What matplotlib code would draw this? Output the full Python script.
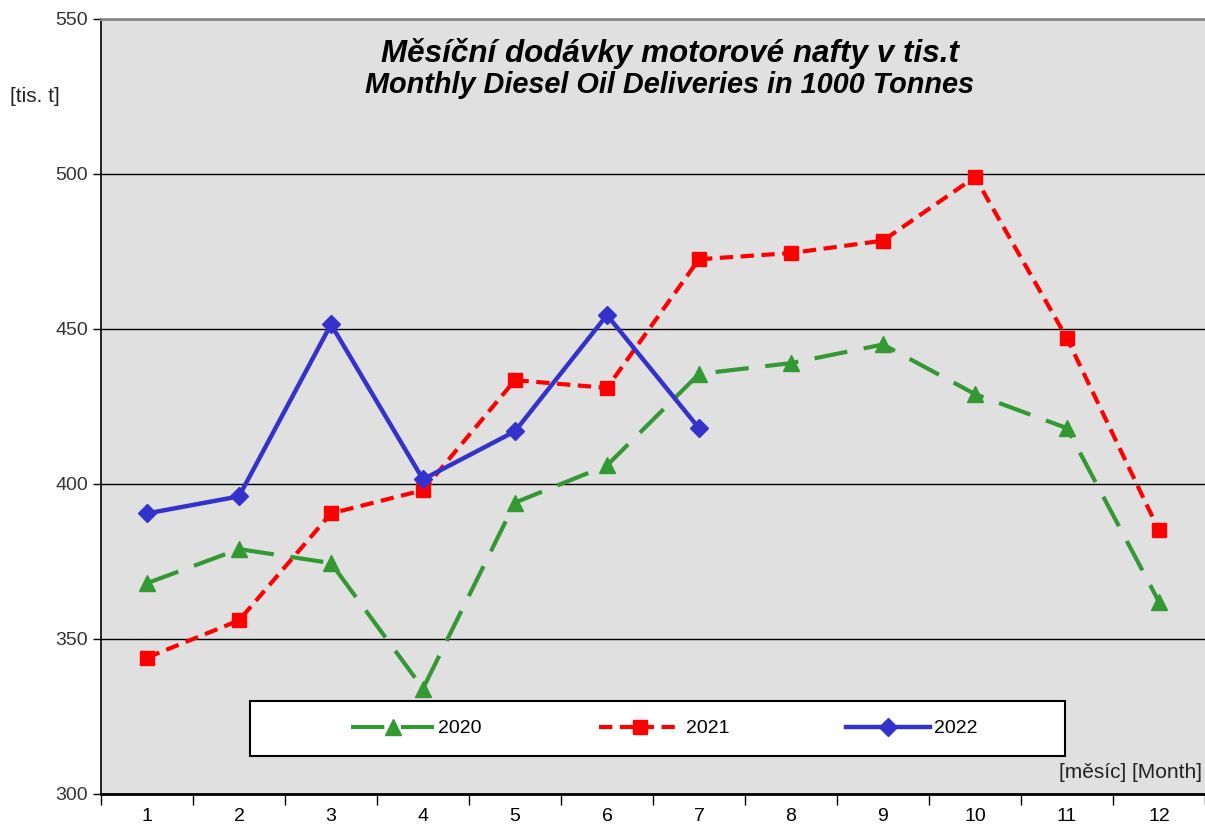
import matplotlib.pyplot as plt
from matplotlib.patches import Rectangle
import numpy as np

# months
months = [1, 2, 3, 4, 5, 6, 7, 8, 9, 10, 11, 12]
month_labels = ["1", "2", "3", "4", "5", "6", "7", "8", "9", "10", "11", "12"]

# deliveries [tis. t]
y2020 = [368, 379, 374.5, 334, 394, 406, 435.5, 439, 445, 429, 418, 362]
y2021 = [344, 356, 390.5, 398, 433.5, 431, 472.5, 474.5, 478.5, 499, 447, 385]
m2022 = [1, 2, 3, 4, 5, 6, 7]
y2022 = [390.5, 396, 451.5, 401.5, 417, 454.5, 418]

plt.rcParams['font.family'] = ['Liberation Sans', 'DejaVu Sans']

fig = plt.figure(figsize=(12.05, 8.25), dpi=100)
ax = fig.add_axes([101/1205, 31/825, 1104/1205, 775/825])
ax.set_facecolor("#e0e0e0")

ax.plot(months, y2020, color="#339933", lw=3, dashes=(8, 4), marker="^", ms=11,
        label="2020", zorder=3)
ax.plot(months, y2021, color="#ff0000", lw=3, dashes=(3.2, 1.8), marker="s", ms=10.5,
        label="2021", zorder=4)
ax.plot(m2022, y2022, color="#3333cc", lw=3.2, marker="D", ms=9.5,
        label="2022", zorder=5)

ax.set_xlim(0.5, 12.5)
ax.set_ylim(300, 550)
ax.set_yticks([300, 350, 400, 450, 500, 550])
ax.tick_params(axis="y", labelsize=14, labelcolor="#333333", length=6, width=1)

ax.set_xticks(np.arange(0.5, 13, 1))
ax.set_xticklabels([])
ax.tick_params(axis="x", which="major", length=8, width=1)
ax.set_xticks(months, minor=True)
ax.set_xticklabels(month_labels, minor=True)
ax.tick_params(axis="x", which="minor", length=0, labelsize=14, pad=10)

ax.grid(axis="y", color="black", lw=1)
ax.set_axisbelow(True)
ax.spines["right"].set_visible(False)
ax.spines["top"].set_color("#888888")
ax.spines["top"].set_linewidth(2)
ax.spines["left"].set_linewidth(1.2)
ax.spines["bottom"].set_linewidth(2)

ax.text(0.515, 0.956, "Měsíční dodávky motorové nafty v tis.t", transform=ax.transAxes,
        ha="center", va="center", fontsize=22.6, fontweight="bold", style="italic")
ax.text(0.515, 0.915, "Monthly Diesel Oil Deliveries in 1000 Tonnes", transform=ax.transAxes,
        ha="center", va="center", fontsize=20.8, fontweight="bold", style="italic")

fig.text(10/1205, 1 - 97/825, "[tis. t]", fontsize=15, va="center", ha="left", color="#222222")
ax.text(0.997, 0.028, "[měsíc] [Month]", transform=ax.transAxes, fontsize=15,
        ha="right", va="center", color="#222222")

# legend box
ax.add_patch(Rectangle((0.135, 0.049), 0.738, 0.071, transform=ax.transAxes,
                       facecolor="white", edgecolor="black", lw=1.5, zorder=6))
leg = ax.legend(loc="center", bbox_to_anchor=(0.135 + 0.738/2 + 0.006, 0.049 + 0.071/2), ncol=3,
                fontsize=14, frameon=False, handlelength=4.3, handletextpad=0.2,
                columnspacing=6.0, borderaxespad=0)
leg.set_zorder(7)

fig.savefig("out.png", dpi=100)
